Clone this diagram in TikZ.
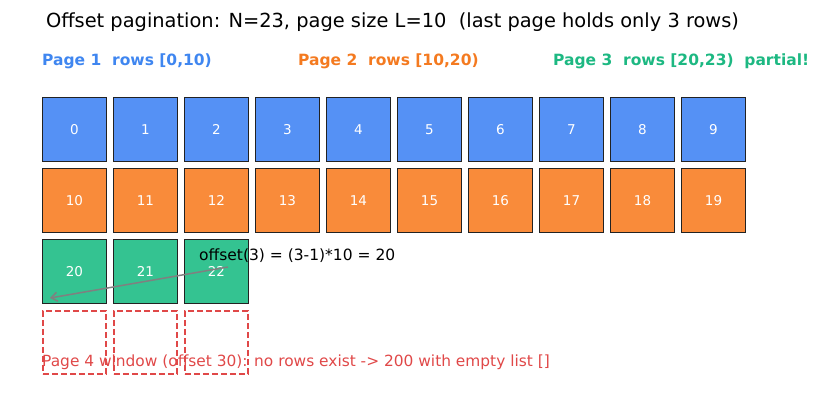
\documentclass[tikz,border=0pt]{standalone}
\usepackage{fontspec}
\setmainfont{DejaVu Sans}
\usetikzlibrary{arrows.meta}
\definecolor{pblue}{HTML}{5591F5}
\definecolor{porange}{HTML}{F98B3A}
\definecolor{pgreen}{HTML}{34C391}
\definecolor{tblue}{HTML}{3F86F0}
\definecolor{torange}{HTML}{F47A20}
\definecolor{tgreen}{HTML}{1DB882}
\definecolor{tred}{HTML}{E04848}
\definecolor{edge}{HTML}{222222}
\begin{document}
\begin{tikzpicture}[x=1pt,y=-1pt,
  cell/.style={draw=edge,line width=1pt,minimum width=64pt,minimum height=64pt,inner sep=0pt,anchor=north west,text=white,text height=9.5pt,text depth=0pt,font=\fontsize{13.5}{15}\selectfont},
  ghost/.style={draw=tred,line width=1.6pt,dash pattern=on 6pt off 3pt,minimum width=63pt,minimum height=63pt,inner sep=0pt,anchor=north west},
  lbl/.style={anchor=west,inner sep=0pt,font=\fontsize{15.5}{18}\selectfont\bfseries}]
\useasboundingbox (0,0) rectangle (823,416);
\node[inner sep=0pt,font=\fontsize{19.4}{22}\selectfont] (title) at (392.5,22) {Offset pagination: N=23, page size L=10\ \ (last page holds only 3 rows)};
\node[lbl,text=tblue] (l1) at (42,61) {Page 1\ \ rows [0,10)};
\node[lbl,text=torange] (l2) at (298,61) {Page 2\ \ rows [10,20)};
\node[lbl,text=tgreen] (l3) at (553,61) {Page 3\ \ rows [20,23)\ \ partial!};
\foreach \i in {0,...,9} {
  \node[cell,fill=pblue] (c\i) at (42+71*\i,97) {\i};
}
\foreach \i in {0,...,9} {
  \pgfmathtruncatemacro{\n}{10+\i}
  \node[cell,fill=porange] (c\n) at (42+71*\i,168) {\n};
}
\foreach \i in {0,1,2} {
  \pgfmathtruncatemacro{\n}{20+\i}
  \node[cell,fill=pgreen] (c\n) at (42+71*\i,239) {\n};
}
\foreach \i in {0,1,2} {
  \node[ghost] (g\i) at (42+71*\i,310) {};
}
\node[anchor=west,inner sep=0pt,font=\fontsize{15.5}{18}\selectfont] (off) at (199,256) {offset(3) = (3-1)*10 = 20};
\coordinate (as) at (228,267);
\coordinate (ae) at (50,298);
\draw[-{Straight Barb[length=6pt,width=9pt]},line width=1.5pt,color=gray] (as) -- (ae);
\node[anchor=west,inner sep=0pt,text=tred,font=\fontsize{15.4}{18}\selectfont] (note) at (42,362) {Page 4 window (offset 30): no rows exist -> 200 with empty list []};
\end{tikzpicture}
\end{document}
